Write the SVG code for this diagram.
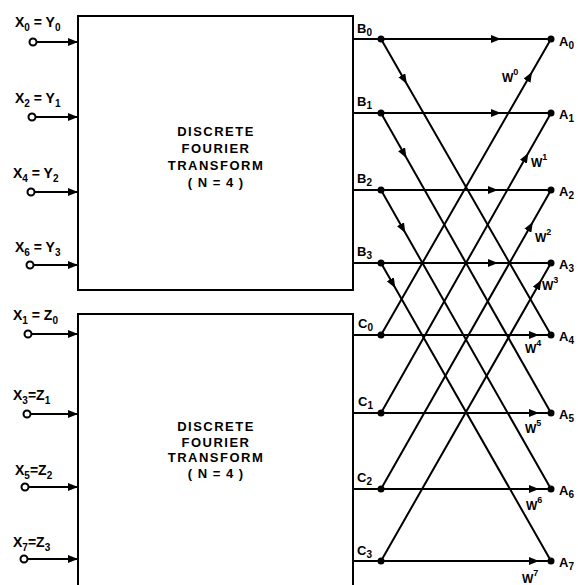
<svg xmlns="http://www.w3.org/2000/svg" width="578" height="585" viewBox="0 0 578 585">
<style>
.ln{stroke:#000;stroke-width:2;fill:none}
.box{fill:none;stroke:#000;stroke-width:2}
.pin{fill:#fff;stroke:#000;stroke-width:2}
.dot{fill:#000}
text{font-family:"Liberation Sans",Arial,sans-serif;font-weight:bold;fill:#000}
.in{font-size:14px}
.lb{font-size:13px}
.w{font-size:12px}
.sub{font-size:10px}
.sup{font-size:9px}
.bt{font-size:13px;letter-spacing:1.5px;text-anchor:middle}
</style>
<defs>
<marker id="ah" viewBox="0 0 10 8" refX="10" refY="4" markerWidth="10" markerHeight="8" markerUnits="userSpaceOnUse" orient="auto"><path d="M0,0 L10,4 L0,8 z" fill="#000"/></marker>
</defs>

<g id="dft1">
<rect class="box" x="78" y="16" width="275" height="274"/>
<text class="bt" x="216" y="136">DISCRETE</text>
<text class="bt" x="216" y="153">FOURIER</text>
<text class="bt" x="216" y="170">TRANSFORM</text>
<text class="bt" x="216" y="187" style="letter-spacing:1px">( N = 4 )</text>
</g>
<g id="dft2">
<path class="box" d="M78,592 V314 H353 V592"/>
<text class="bt" x="216" y="431">DISCRETE</text>
<text class="bt" x="216" y="447">FOURIER</text>
<text class="bt" x="216" y="462">TRANSFORM</text>
<text class="bt" x="216" y="478" style="letter-spacing:1px">( N = 4 )</text>
</g>

<g id="inputs">
<g id="in-x0"><circle class="pin" cx="33" cy="42" r="3.5"/><text class="in" x="15" y="27">X<tspan class="sub" dy="4">0</tspan><tspan dy="-4"> = Y</tspan><tspan class="sub" dy="4">0</tspan></text></g>
<g id="in-x2"><circle class="pin" cx="32" cy="117" r="3.5"/><text class="in" x="15" y="103">X<tspan class="sub" dy="4">2</tspan><tspan dy="-4"> = Y</tspan><tspan class="sub" dy="4">1</tspan></text></g>
<g id="in-x4"><circle class="pin" cx="31" cy="192" r="3.5"/><text class="in" x="13" y="178">X<tspan class="sub" dy="4">4</tspan><tspan dy="-4"> = Y</tspan><tspan class="sub" dy="4">2</tspan></text></g>
<g id="in-x6"><circle class="pin" cx="30" cy="265" r="3.5"/><text class="in" x="15" y="252">X<tspan class="sub" dy="4">6</tspan><tspan dy="-4">  = Y</tspan><tspan class="sub" dy="4">3</tspan></text></g>
<g id="in-x1"><circle class="pin" cx="28" cy="334" r="3.5"/><text class="in" x="13" y="320">X<tspan class="sub" dy="4">1</tspan><tspan dy="-4"> = Z</tspan><tspan class="sub" dy="4">0</tspan></text></g>
<g id="in-x3"><circle class="pin" cx="27" cy="414" r="3.5"/><text class="in" x="13" y="400">X<tspan class="sub" dy="4">3</tspan><tspan dy="-4">=Z</tspan><tspan class="sub" dy="4">1</tspan></text></g>
<g id="in-x5"><circle class="pin" cx="25" cy="487" r="3.5"/><text class="in" x="15" y="475">X<tspan class="sub" dy="4">5</tspan><tspan dy="-4">=Z</tspan><tspan class="sub" dy="4">2</tspan></text></g>
<g id="in-x7"><circle class="pin" cx="24" cy="559" r="3.5"/><text class="in" x="13" y="547">X<tspan class="sub" dy="4">7</tspan><tspan dy="-4">=Z</tspan><tspan class="sub" dy="4">3</tspan></text></g>
</g>

<g id="connectors">
<path class="ln" marker-end="url(#ah)" d="M36.5,42 H78"/>
<path class="ln" marker-end="url(#ah)" d="M35.5,117 H78"/>
<path class="ln" marker-end="url(#ah)" d="M34.5,192 H78"/>
<path class="ln" marker-end="url(#ah)" d="M33.5,265 H78"/>
<path class="ln" marker-end="url(#ah)" d="M31.5,334 H78"/>
<path class="ln" marker-end="url(#ah)" d="M30.5,414 H78"/>
<path class="ln" marker-end="url(#ah)" d="M28.5,487 H78"/>
<path class="ln" marker-end="url(#ah)" d="M27.5,559 H78"/>

<path class="ln" marker-mid="url(#ah)" d="M353,39 L501,39 L551,39"/>
<path class="ln" marker-mid="url(#ah)" d="M353,113 L501,113 L551,113"/>
<path class="ln" marker-mid="url(#ah)" d="M353,190 L498,190 L551,190"/>
<path class="ln" marker-mid="url(#ah)" d="M353,263 L498,263 L551,263"/>
<path class="ln" marker-mid="url(#ah)" d="M353,335 L539,335 L551,335"/>
<path class="ln" marker-mid="url(#ah)" d="M353,413 L539,413 L551,413"/>
<path class="ln" marker-mid="url(#ah)" d="M353,489 L539,489 L551,489"/>
<path class="ln" marker-mid="url(#ah)" d="M353,561 L539,561 L551,561"/>

<path class="ln" marker-mid="url(#ah)" d="M381,39 L406.8,84 L551,335"/>
<path class="ln" marker-mid="url(#ah)" d="M381,113 L406.5,158 L551,413"/>
<path class="ln" marker-mid="url(#ah)" d="M381,190 L405.4,233 L551,489"/>
<path class="ln" marker-mid="url(#ah)" d="M381,263 L395.3,288 L551,561"/>

<path class="ln" marker-mid="url(#ah)" d="M381,335 L532,72 L551,39"/>
<path class="ln" marker-mid="url(#ah)" d="M381,413 L528.3,153 L551,113"/>
<path class="ln" marker-mid="url(#ah)" d="M381,489 L532.8,222 L551,190"/>
<path class="ln" marker-mid="url(#ah)" d="M381,561 L541.3,280 L551,263"/>
</g>

<g id="weights">
<text class="w" x="502" y="82">W<tspan class="sup" dy="-7">0</tspan></text>
<text class="w" x="531" y="167">W<tspan class="sup" dy="-7">1</tspan></text>
<text class="w" x="535" y="242">W<tspan class="sup" dy="-7">2</tspan></text>
<text class="w" x="542" y="290">W<tspan class="sup" dy="-7">3</tspan></text>
<text class="w" x="525" y="353">W<tspan class="sup" dy="-7">4</tspan></text>
<text class="w" x="525" y="433">W<tspan class="sup" dy="-7">5</tspan></text>
<text class="w" x="526" y="510">W<tspan class="sup" dy="-7">6</tspan></text>
<text class="w" x="522" y="583">W<tspan class="sup" dy="-7">7</tspan></text>
</g>

<g id="node-b0"><circle class="dot" cx="381" cy="39" r="3.5"/><text class="lb" x="357" y="33">B<tspan class="sub" dy="3">0</tspan></text></g>
<g id="node-b1"><circle class="dot" cx="381" cy="113" r="3.5"/><text class="lb" x="357" y="106">B<tspan class="sub" dy="3">1</tspan></text></g>
<g id="node-b2"><circle class="dot" cx="381" cy="190" r="3.5"/><text class="lb" x="357" y="183">B<tspan class="sub" dy="3">2</tspan></text></g>
<g id="node-b3"><circle class="dot" cx="381" cy="263" r="3.5"/><text class="lb" x="357" y="256">B<tspan class="sub" dy="3">3</tspan></text></g>
<g id="node-c0"><circle class="dot" cx="381" cy="335" r="3.5"/><text class="lb" x="358" y="328">C<tspan class="sub" dy="3">0</tspan></text></g>
<g id="node-c1"><circle class="dot" cx="381" cy="413" r="3.5"/><text class="lb" x="358" y="406">C<tspan class="sub" dy="3">1</tspan></text></g>
<g id="node-c2"><circle class="dot" cx="381" cy="489" r="3.5"/><text class="lb" x="357" y="482">C<tspan class="sub" dy="3">2</tspan></text></g>
<g id="node-c3"><circle class="dot" cx="381" cy="561" r="3.5"/><text class="lb" x="357" y="555">C<tspan class="sub" dy="3">3</tspan></text></g>

<g id="node-a0"><circle class="dot" cx="551" cy="39" r="3.5"/><text class="lb" x="559" y="46">A<tspan class="sub" dy="3">0</tspan></text></g>
<g id="node-a1"><circle class="dot" cx="551" cy="113" r="3.5"/><text class="lb" x="559" y="119">A<tspan class="sub" dy="3">1</tspan></text></g>
<g id="node-a2"><circle class="dot" cx="551" cy="190" r="3.5"/><text class="lb" x="559" y="196">A<tspan class="sub" dy="3">2</tspan></text></g>
<g id="node-a3"><circle class="dot" cx="551" cy="263" r="3.5"/><text class="lb" x="559" y="269">A<tspan class="sub" dy="3">3</tspan></text></g>
<g id="node-a4"><circle class="dot" cx="551" cy="335" r="3.5"/><text class="lb" x="559" y="341">A<tspan class="sub" dy="3">4</tspan></text></g>
<g id="node-a5"><circle class="dot" cx="551" cy="413" r="3.5"/><text class="lb" x="559" y="419">A<tspan class="sub" dy="3">5</tspan></text></g>
<g id="node-a6"><circle class="dot" cx="551" cy="489" r="3.5"/><text class="lb" x="559" y="495">A<tspan class="sub" dy="3">6</tspan></text></g>
<g id="node-a7"><circle class="dot" cx="551" cy="561" r="3.5"/><text class="lb" x="559" y="567">A<tspan class="sub" dy="3">7</tspan></text></g>
</svg>
